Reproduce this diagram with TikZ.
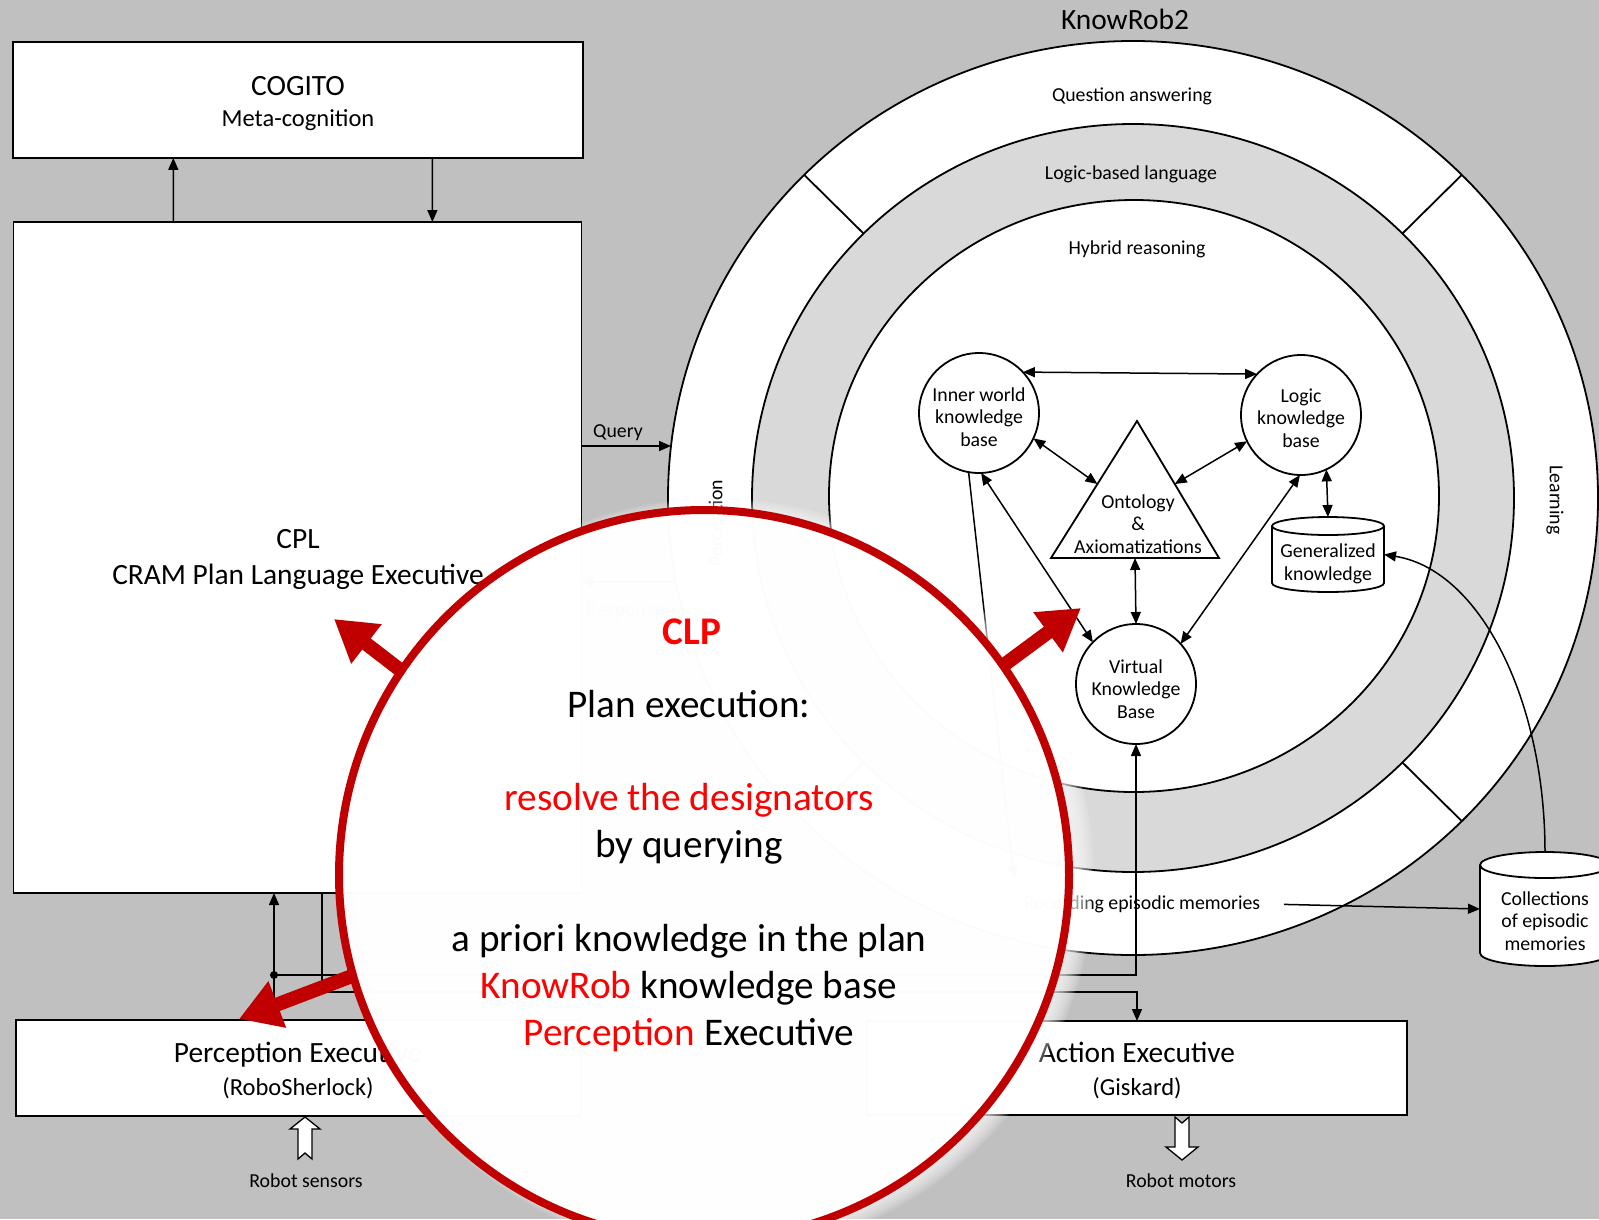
\documentclass[tikz,border=0pt]{standalone}
\usepackage{fontspec}
\setmainfont{Carlito}
\usetikzlibrary{arrows.meta,calc}
\definecolor{pagegray}{RGB}{192,192,192}
\definecolor{ringgray}{RGB}{217,217,217}
\definecolor{clpred}{RGB}{192,0,0}
\definecolor{hired}{RGB}{255,0,0}

\begin{document}
\begin{tikzpicture}[x=1pt,y=-1pt,
  every node/.style={inner sep=0pt,outer sep=0pt},
  small/.style={font=\fontsize{19.8}{22.5}\selectfont},
  title/.style={font=\fontsize{29.4}{33}\selectfont},
  subtitle/.style={font=\fontsize{24.5}{28}\selectfont},
  plain/.style={line width=1.5pt},
  frame/.style={draw,fill=white,line width=1.8pt},
  flow/.style={plain,-{Triangle[length=12pt,width=10pt]}},
  both/.style={plain,{Triangle[length=12pt,width=10pt]}-{Triangle[length=12pt,width=10pt]}},
  kbnode/.style={circle,frame,minimum size=120pt},
  kbtext/.style={small,align=center},
  hollow/.style={draw,fill=white,line width=1.3pt,line join=miter},
  bigtext/.style={font=\fontsize{39.2}{45}\selectfont,anchor=base},
  redblock/.style={clpred,line width=14pt,shorten <=2pt,-{Triangle[length=41pt,width=47pt]}},
]
\useasboundingbox (0,0) rectangle (1599,1219);
\fill[pagegray] (0,0) rectangle (1599,1219);

% ---------------- KnowRob2 rings ----------------
\coordinate (kr) at (1133,498);
\draw[frame] (kr) ellipse[x radius=465,y radius=457];
\draw[frame,fill=ringgray] (kr) ellipse[x radius=381,y radius=374];
\draw[frame] (1134,496) ellipse[x radius=305,y radius=296];
\foreach \a in {45,135,225,315}
  \draw[line width=1.8pt] ($(kr)+(\a:381 and 374)$) -- ($(kr)+(\a:465 and 457)$);

\node[title,anchor=base] (krtitle) at (1125,29) {KnowRob2};
\node[small,anchor=base] (qa) at (1132,101) {Question answering};
\node[small,anchor=base] (lbl) at (1131,179) {Logic-based language};
\node[small,anchor=base] (hr) at (1137,254) {Hybrid reasoning};
\node[small,rotate=-90] (learn) at (1555,500) {Learning};
\node[small,rotate=90] (perclbl) at (717,523) {Perception};
\node[small,anchor=base] (rec) at (1142,909) {Recording episodic memories};

% ---------------- reasoning components ----------------
\node[kbnode,label={[kbtext,yshift=-4pt]center:Inner world\\knowledge\\base}] (iw) at (979,413) {};
\node[kbnode,label={[kbtext,yshift=-3pt]center:Logic\\knowledge\\base}] (lk) at (1301,415) {};
\node[kbnode,label={[kbtext,yshift=-5pt]center:Virtual\\Knowledge\\Base}] (vkb) at (1136,684) {};

\coordinate (onta) at (1137,421);
\coordinate (ontl) at (1051,558);
\coordinate (ontr) at (1219,558);
\draw[frame] (onta) -- (ontl) -- (ontr) -- cycle;
\node[kbtext] (ont) at (1138,524) {Ontology\\\&\\Axiomatizations};

% generalized knowledge store
\node[minimum width=112pt,minimum height=75pt] (gen) at (1328,554.5) {};
\draw[frame] (1272,526) -- (1272,583) arc[start angle=180,end angle=0,x radius=56,y radius=9]
  -- (1384,526) arc[start angle=0,end angle=-180,x radius=56,y radius=9] -- cycle;
\draw[line width=1.8pt] (1272,526) arc[start angle=180,end angle=0,x radius=56,y radius=9];
\node[kbtext] (gentext) at (1328,564) {Generalized\\knowledge};

% episodic memory store
\node[minimum width=130pt,minimum height=114pt] (coll) at (1545,909) {};
\draw[frame] (1480,865) -- (1480,953) arc[start angle=180,end angle=0,x radius=65,y radius=13]
  -- (1610,865) arc[start angle=0,end angle=-180,x radius=65,y radius=13] -- cycle;
\draw[line width=1.8pt] (1480,865) arc[start angle=180,end angle=0,x radius=65,y radius=13];
\node[kbtext] (colltext) at (1545,921) {Collections\\of episodic\\memories};

\draw[both] (iw.43) -- (lk.137);
\draw[both] (iw.-25) -- ($(onta)!0.46!(ontl)$);
\draw[both] (lk.206) -- ($(onta)!0.46!(ontr)$);
\draw[both] ($(ontl)!0.5!(ontr)$) -- (vkb.north);
\draw[both] (iw.-88) -- (vkb.136);
\draw[both] (lk.-91) -- (vkb.42);
\draw[both] (lk.-65) -- (gen.north);
\coordinate (recin) at (1014,879);
\draw[flow] (iw.-100) -- (recin);
\draw[flow,shorten <=24pt] (rec.east) -- (coll.west);
\draw[flow] (coll.north) .. controls (1545,700) and (1480,570) .. (gen.east);

% ---------------- executives ----------------
\node[frame,minimum width=570pt,minimum height=116pt] (cogito) at (298.3,99.9) {};
\node[title,anchor=base] (cogitot) at (298,95) {COGITO};
\node[subtitle,anchor=base] (cogitos) at (298,126) {Meta-cognition};

\node[frame,minimum width=568pt,minimum height=671pt] (cpl) at (297.4,557.5) {};
\node[title,anchor=base] (cplt) at (298,548) {CPL};
\node[title,anchor=base] (cpls) at (298,584) {CRAM Plan Language Executive};

\node[frame,minimum width=565pt,minimum height=96pt] (pex) at (298.5,1068) {};
\node[title,anchor=base] (pext) at (298,1062) {Perception Executive};
\node[subtitle,anchor=base] (pexs) at (298,1095) {(RoboSherlock)};

\node[frame,minimum width=540pt,minimum height=94pt] (act) at (1137,1068) {};
\node[title,anchor=base] (actt) at (1137,1062) {Action Executive};
\node[subtitle,anchor=base] (acts) at (1137,1095) {(Giskard)};

\draw[flow] ([xshift=160pt]cpl.north west) -- ([xshift=160pt]cogito.south west);
\draw[flow] ([xshift=419pt]cogito.south west) -- ([xshift=419pt]cpl.north west);

\coordinate (qend) at (671,446);
\draw[flow] (cpl.east |- qend) -- (qend);
\node[small,anchor=base] (qlbl) at (618,437) {Query};
\coordinate (rstart) at (676,582);
\draw[flow] (rstart) -- (cpl.east |- rstart);
\node[small,anchor=base] (rlbl) at (625,616) {Response};

\coordinate (junc) at (274,975);
\draw[plain] (pex.north -| junc) -- (junc);
\fill (junc) circle[radius=4];
\draw[flow] (junc) -- (cpl.south -| junc);
\draw[flow] (junc) -| (vkb.south);
\coordinate (bus) at (322,992);
\draw[flow] (cpl.south -| bus) -- (bus) -| (act.north);

% robot interfaces
\draw[hollow] (305,1117) -- (320,1129) -- (312,1129) -- (312,1159) -- (305,1153)
  -- (298,1159) -- (298,1129) -- (290,1129) -- cycle;
\node[small,anchor=base] (sens) at (306,1187) {Robot sensors};
\draw[hollow] (1175,1117) -- (1182,1123) -- (1189,1117) -- (1189,1147) -- (1198,1147)
  -- (1182,1160) -- (1166,1147) -- (1175,1147) -- cycle;
\node[small,anchor=base] (mot) at (1181,1187) {Robot motors};

% ---------------- CLP lens ----------------
\foreach \k in {1,...,12}
  \fill[white,fill opacity=0.09] (716,876) circle[radius=360+1.5*\k];
\node[circle,draw=clpred,line width=8pt,fill=white,fill opacity=0.96,minimum size=730pt] (clp) at (704,875) {};

\coordinate (tipcpl) at (334,619);
\coordinate (tipkr) at (1081,608);
\coordinate (tippex) at (239,1019);
\draw[redblock] (clp.146) -- (tipcpl);
\draw[redblock] (clp.35) -- (tipkr);
\draw[redblock] (clp.196) -- (tippex);

\node[bigtext,font=\fontsize{39.2}{45}\selectfont\bfseries,text=hired] (clpt) at (692,644) {CLP};
\node[bigtext] (plan) at (689,717) {Plan execution:};
\node[bigtext,text=hired] (resolve) at (689,810) {resolve the designators};
\node[bigtext] (byq) at (689,857) {by querying};
\node[bigtext] (apriori) at (689,951) {a priori knowledge in the plan};
\node[bigtext] (krbase) at (689,998) {\textcolor{hired}{KnowRob} knowledge base};
\node[bigtext] (pexec) at (689,1045) {\textcolor{hired}{Perception} Executive};
\end{tikzpicture}
\end{document}
